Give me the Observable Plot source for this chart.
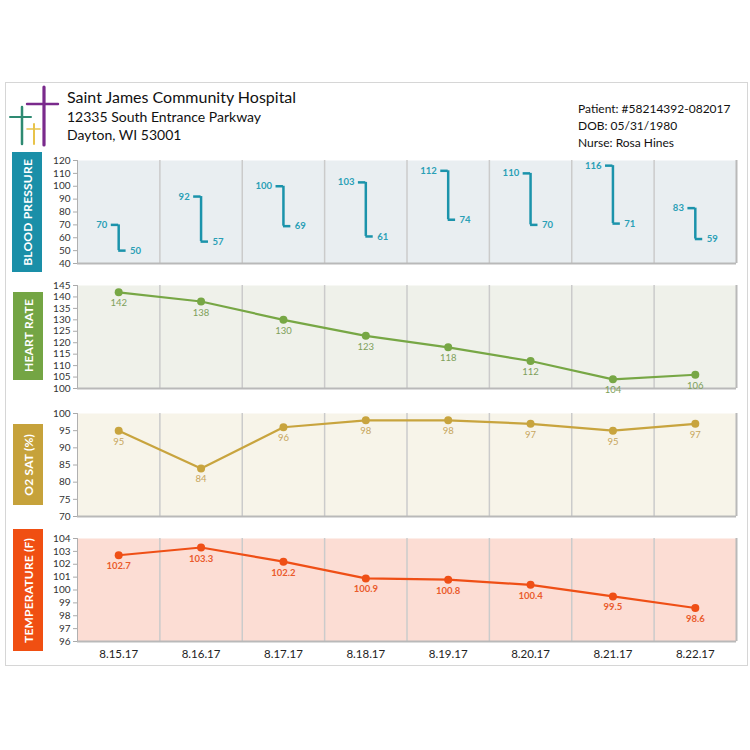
<!DOCTYPE html>
<html>
<head>
<meta charset="utf-8">
<script src="https://cdn.jsdelivr.net/npm/d3@7"></script>
<script src="https://cdn.jsdelivr.net/npm/@observablehq/plot@0.6"></script>
<style>
  body { margin: 0; background: #fff; font-family: Lato, "Open Sans", sans-serif; }
  #page { position: relative; width: 750px; height: 750px; overflow: hidden; }
  .abs { position: absolute; }
  .side { position: absolute; display: flex; align-items: center; justify-content: center; }
  .side span { writing-mode: vertical-rl; transform: rotate(180deg); color: #fff; font-weight: bold; font-size: 12px; letter-spacing: 0.2px; white-space: nowrap; }
  .hdr { position: absolute; color: #111; white-space: nowrap; }
</style>
</head>
<body>
<div id="page">
  <div class="abs" style="left:5px;top:82px;width:741px;height:582px;border:1px solid #d6d6d6;"></div>
  <svg class="abs" style="left:0;top:82px" width="66" height="70" viewBox="0 82 66 70">
    <g stroke-linecap="round">
      <line x1="22" y1="107" x2="22" y2="144" stroke="#2e8a72" stroke-width="2.5"/>
      <line x1="10" y1="117" x2="31" y2="117" stroke="#2e8a72" stroke-width="2"/>
      <line x1="34" y1="124" x2="34" y2="144" stroke="#e8c34a" stroke-width="2"/>
      <line x1="27" y1="129" x2="40" y2="129" stroke="#e8c34a" stroke-width="1.6"/>
      <line x1="44" y1="87" x2="44" y2="145" stroke="#7a2a8c" stroke-width="3.2"/>
      <line x1="27" y1="104" x2="58" y2="104" stroke="#7a2a8c" stroke-width="2.4"/>
    </g>
  </svg>
  <div class="hdr" style="left:67px;top:87px;font-size:16px;">Saint James Community Hospital</div>
  <div class="hdr" style="left:67px;top:108px;font-size:14px;">12335 South Entrance Parkway</div>
  <div class="hdr" style="left:67px;top:126px;font-size:14px;">Dayton, WI 53001</div>
  <div class="hdr" style="left:578px;top:101px;font-size:12px;">Patient: #58214392-082017</div>
  <div class="hdr" style="left:578px;top:118px;font-size:12px;">DOB: 05/31/1980</div>
  <div class="hdr" style="left:578px;top:135px;font-size:12px;">Nurse: Rosa Hines</div>

  <div class="side" style="left:12px;top:152px;width:30px;height:120px;background:#1a8fa8;"><span>BLOOD PRESSURE</span></div>
  <div class="side" style="left:13px;top:292px;width:30px;height:88px;background:#74a544;"><span>HEART RATE</span></div>
  <div class="side" style="left:13px;top:424px;width:30px;height:81px;background:#c6a23b;"><span>O2 SAT (%)</span></div>
  <div class="side" style="left:13px;top:529px;width:30px;height:122px;background:#f04f12;"><span>TEMPERATURE (F)</span></div>

  <div id="bp" class="abs" style="left:0;top:150px"></div>
  <div id="hr" class="abs" style="left:0;top:277px"></div>
  <div id="o2" class="abs" style="left:0;top:405px"></div>
  <div id="tp" class="abs" style="left:0;top:530px"></div>
</div>
<script>
// ---- data ----
const dates = ["8.15.17", "8.16.17", "8.17.17", "8.18.17", "8.19.17", "8.20.17", "8.21.17", "8.22.17"];
const systolic = [70, 92, 100, 103, 112, 110, 116, 83];
const diastolic = [50, 57, 69, 61, 74, 70, 71, 59];
const heartRate = [142, 138, 130, 123, 118, 112, 104, 106];
const o2Sat = [95, 84, 96, 98, 98, 97, 95, 97];
const temperature = [102.7, 103.3, 102.2, 100.9, 100.8, 100.4, 99.5, 98.6];

const bpTicks = [40, 50, 60, 70, 80, 90, 100, 110, 120];
const hrTicks = [100, 105, 110, 115, 120, 125, 130, 135, 140, 145];
const o2Ticks = [70, 75, 80, 85, 90, 95, 100];
const tpTicks = [96, 97, 98, 99, 100, 101, 102, 103, 104];

const bpData = dates.map((d, i) => ({i, date: d, sys: systolic[i], dia: diastolic[i]}));
const hrData = dates.map((d, i) => ({i, date: d, v: heartRate[i]}));
const o2Data = dates.map((d, i) => ({i, date: d, v: o2Sat[i]}));
const tpData = dates.map((d, i) => ({i, date: d, v: temperature[i]}));

const FONT = "Lato, 'Open Sans', sans-serif";
const W = 750, ML = 77, MR = 14, PLOT_H = 103;
const bounds = d3.range(-0.5, dates.length, 1);
const arm = 0.09;

function panel({yDomain, yTicks, bg, marks, mt, mb, xAxis}) {
  const all = [
    Plot.frame({fill: bg, stroke: null}),
    Plot.ruleX(bounds.slice(1, -1), {stroke: "#cbcbcb", strokeWidth: 1.5}),
    Plot.ruleX([bounds[bounds.length - 1]], {stroke: "#b9b9b9", strokeWidth: 2}),
    Plot.ruleY([yDomain[0]], {stroke: "#b9b9b9", strokeWidth: 2}),
    Plot.ruleX([bounds[0]], {stroke: "#b0b0b0", strokeWidth: 1}),
    Plot.axisY({ticks: yTicks, label: null, tickSize: 4, tickPadding: 3, fontSize: 10, fill: "#333", stroke: "#aaa", tickFormat: d => d}),
    ...marks
  ];
  if (xAxis) all.push(Plot.axisX({ticks: d3.range(dates.length), label: null, tickSize: 0, tickPadding: 8, fontSize: 11.5, fill: "#222", tickFormat: i => dates[i]}));
  return Plot.plot({
    width: W,
    height: mt + PLOT_H + mb,
    marginLeft: ML, marginRight: MR, marginTop: mt, marginBottom: mb,
    style: {fontFamily: FONT, background: "transparent", overflow: "visible"},
    x: {type: "linear", domain: [-0.5, dates.length - 0.5], label: null, axis: xAxis ? undefined : null},
    y: {domain: yDomain, label: null},
    marks: all
  });
}

// Blood pressure
const bpColor = "#1b93ab";
document.getElementById("bp").append(panel({
  yDomain: [40, 120], yTicks: bpTicks, bg: "#e9eef1", mt: 10, mb: 5,
  marks: [
    Plot.ruleY(bpData, {x1: d => d.i - arm, x2: "i", y: "sys", stroke: bpColor, strokeWidth: 2.5}),
    Plot.ruleX(bpData, {x: "i", y1: "sys", y2: "dia", stroke: bpColor, strokeWidth: 2.5}),
    Plot.ruleY(bpData, {x1: "i", x2: d => d.i + arm, y: "dia", stroke: bpColor, strokeWidth: 2.5}),
    Plot.text(bpData, {x: d => d.i - arm, y: "sys", text: "sys", dx: -4, textAnchor: "end", fill: "#2a9fb6", fontSize: 9.5, fontWeight: "bold"}),
    Plot.text(bpData, {x: d => d.i + arm, y: "dia", text: "dia", dx: 4, textAnchor: "start", fill: "#2a9fb6", fontSize: 9.5, fontWeight: "bold"})
  ]
}));

function linePanel(el, data, opts, color, labelColor, fmt, bold) {
  document.getElementById(el).append(panel({
    ...opts,
    marks: [
      Plot.line(data, {x: "i", y: "v", stroke: color, strokeWidth: 2.2}),
      Plot.dot(data, {x: "i", y: "v", fill: color, r: 4}),
      Plot.text(data, {x: "i", y: "v", text: d => fmt(d.v), dy: 11, fill: labelColor, fontSize: 9.5, fontWeight: bold ? "bold" : "normal"})
    ]
  }));
}

linePanel("hr", hrData, {yDomain: [100, 145], yTicks: hrTicks, bg: "#eff1ea", mt: 8, mb: 5}, "#77a745", "#7ea05a", d => d, false);
linePanel("o2", o2Data, {yDomain: [70, 100], yTicks: o2Ticks, bg: "#f7f4e9", mt: 8, mb: 5}, "#c8a43e", "#c7a65c", d => d, false);
linePanel("tp", tpData, {yDomain: [96, 104], yTicks: tpTicks, bg: "#fcddd4", mt: 8, mb: 26, xAxis: true}, "#ef4f16", "#ea5b2c", d => d.toFixed(1), true);
</script>
</body>
</html>
